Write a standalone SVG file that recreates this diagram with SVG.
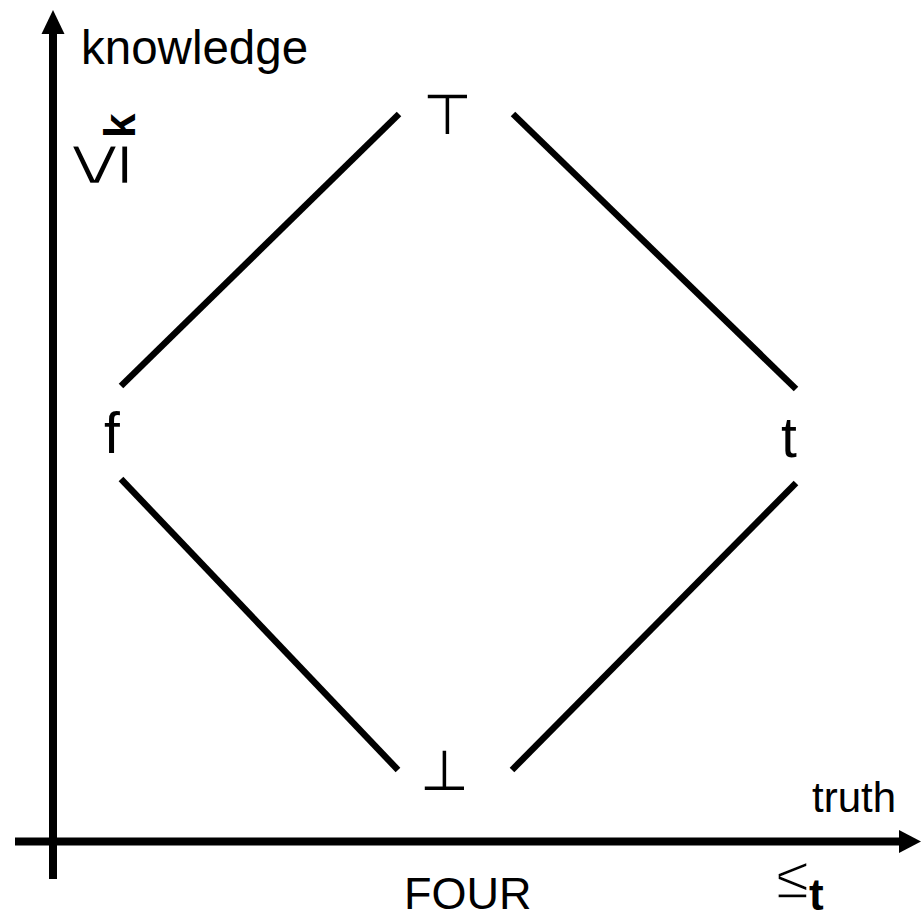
<svg xmlns="http://www.w3.org/2000/svg" width="921" height="919" viewBox="0 0 921 919">
<style>
.axis{stroke:#000;stroke-width:8;fill:none}
.edge{stroke:#000;stroke-width:6.5;fill:none;stroke-linecap:butt}
.lbl{font-family:"Liberation Sans",Arial,sans-serif;fill:#000}
.sym{font-family:"DejaVu Sans",sans-serif;font-weight:200;fill:#000}
.le{font-family:"Liberation Sans",Arial,sans-serif;fill:#000;stroke:#fff;stroke-width:1.5}
.sub{font-family:"Liberation Sans",Arial,sans-serif;font-weight:bold;fill:#000}
</style>
<rect width="921" height="919" fill="#fff"/>
<g id="axes">
<line class="axis" x1="53" y1="879" x2="53" y2="30"/>
<polygon points="53,10 41.5,34 64.5,34" fill="#000"/>
<line class="axis" x1="15" y1="841.5" x2="902" y2="841.5"/>
<polygon points="921,841.5 899,830 899,853" fill="#000"/>
</g>
<g id="connectors">
<line class="edge" x1="121" y1="386" x2="399" y2="114"/>
<line class="edge" x1="513" y1="114" x2="796" y2="389"/>
<line class="edge" x1="121" y1="479" x2="398" y2="770"/>
<line class="edge" x1="512" y1="770" x2="796" y2="483"/>
</g>
<g id="node-top"><text class="sym" x="447" y="134" font-size="56" text-anchor="middle">⊤</text></g>
<g id="node-bottom"><text class="sym" x="444" y="790" font-size="56" text-anchor="middle">⊥</text></g>
<g id="node-f"><text class="lbl" x="104" y="453" font-size="57">f</text></g>
<g id="node-t"><text class="lbl" x="781" y="457" font-size="57">t</text></g>
<g id="labels">
<text class="lbl" x="81" y="64" font-size="47.5">knowledge</text>
<text class="lbl" x="812" y="812" font-size="42">truth</text>
<text class="lbl" x="404" y="909" font-size="45">FOUR</text>
<g id="order-k">
<text class="le" transform="translate(128,186) rotate(-90) scale(1,1.2)" font-size="78">≤</text>
<text class="sub" transform="translate(135,138) rotate(-90)" font-size="44">k</text>
</g>
<g id="order-t">
<text class="le" x="776" y="898" font-size="60">≤</text>
<text class="sub" x="809" y="910" font-size="44">t</text>
</g>
</g>
</svg>
